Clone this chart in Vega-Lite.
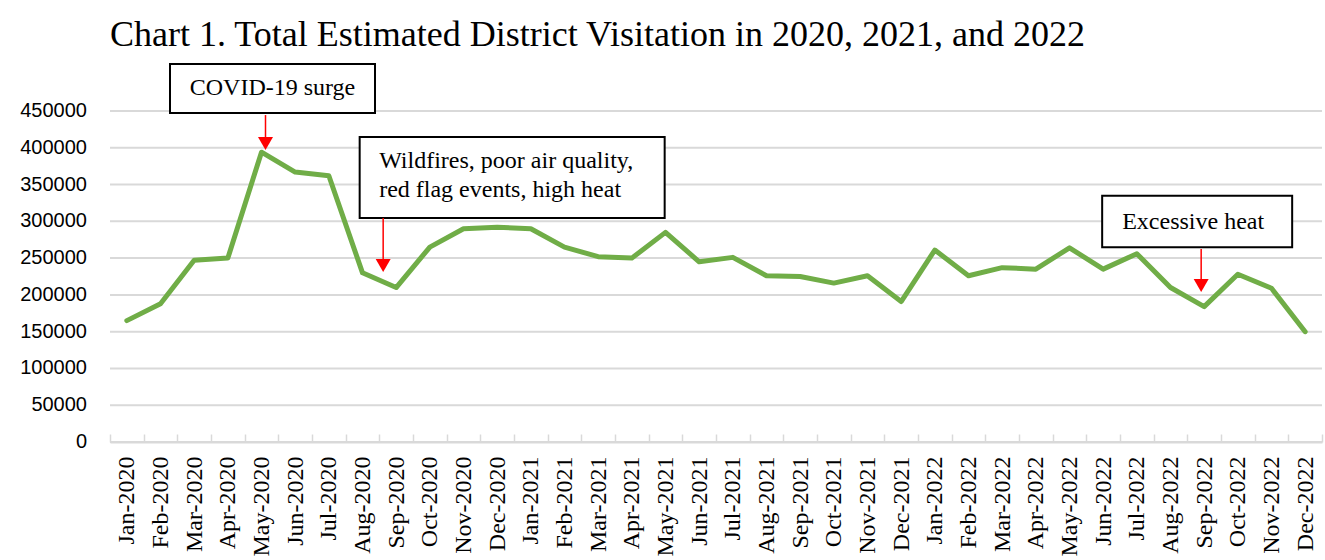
{
  "$schema": "https://vega.github.io/schema/vega-lite/v6.json",
  "width": 1212,
  "height": 331,
  "autosize": {"type": "none"},
  "padding": {"left": 110, "top": 111, "right": 3, "bottom": 118},
  "background": "white",
  "title": {
    "text": "Chart 1. Total Estimated District Visitation in 2020, 2021, and 2022",
    "anchor": "start",
    "frame": "group",
    "font": "Liberation Serif",
    "fontSize": 36,
    "fontWeight": "normal",
    "color": "black",
    "offset": 9
  },
  "resolve": {"axis": {"x": "independent", "y": "independent"}},
  "config": {
    "view": {"stroke": null},
    "axis": {"labelColor": "black"}
  },
  "datasets": {
    "visits": [
      {"month": "Jan-2020", "visitors": 165000},
      {"month": "Feb-2020", "visitors": 188000},
      {"month": "Mar-2020", "visitors": 247000},
      {"month": "Apr-2020", "visitors": 250000},
      {"month": "May-2020", "visitors": 394000},
      {"month": "Jun-2020", "visitors": 367000},
      {"month": "Jul-2020", "visitors": 362000},
      {"month": "Aug-2020", "visitors": 230000},
      {"month": "Sep-2020", "visitors": 210000},
      {"month": "Oct-2020", "visitors": 265000},
      {"month": "Nov-2020", "visitors": 290000},
      {"month": "Dec-2020", "visitors": 292000},
      {"month": "Jan-2021", "visitors": 290000},
      {"month": "Feb-2021", "visitors": 265000},
      {"month": "Mar-2021", "visitors": 252000},
      {"month": "Apr-2021", "visitors": 250000},
      {"month": "May-2021", "visitors": 285000},
      {"month": "Jun-2021", "visitors": 245000},
      {"month": "Jul-2021", "visitors": 251000},
      {"month": "Aug-2021", "visitors": 226000},
      {"month": "Sep-2021", "visitors": 225000},
      {"month": "Oct-2021", "visitors": 216000},
      {"month": "Nov-2021", "visitors": 226000},
      {"month": "Dec-2021", "visitors": 191000},
      {"month": "Jan-2022", "visitors": 261000},
      {"month": "Feb-2022", "visitors": 226000},
      {"month": "Mar-2022", "visitors": 237000},
      {"month": "Apr-2022", "visitors": 235000},
      {"month": "May-2022", "visitors": 264000},
      {"month": "Jun-2022", "visitors": 235000},
      {"month": "Jul-2022", "visitors": 256000},
      {"month": "Aug-2022", "visitors": 210000},
      {"month": "Sep-2022", "visitors": 184000},
      {"month": "Oct-2022", "visitors": 228000},
      {"month": "Nov-2022", "visitors": 209000},
      {"month": "Dec-2022", "visitors": 150000}
    ],
    "gridValues": [
      {"v": 0}, {"v": 50000}, {"v": 100000}, {"v": 150000}, {"v": 200000},
      {"v": 250000}, {"v": 300000}, {"v": 350000}, {"v": 400000}, {"v": 450000}
    ]
  },
  "layer": [
    {
      "data": {"name": "gridValues"},
      "mark": {"type": "rule", "color": "#d9d9d9", "strokeWidth": 2},
      "encoding": {
        "x": {"datum": "Jan-2020", "type": "ordinal", "bandPosition": 0, "axis": null},
        "x2": {"datum": "Dec-2022", "bandPosition": 1},
        "y": {"field": "v", "type": "quantitative", "axis": null}
      }
    },
    {
      "data": {"name": "visits"},
      "mark": {"type": "line", "color": "#70AD47", "strokeWidth": 5, "strokeJoin": "round", "strokeCap": "round"},
      "encoding": {
        "x": {
          "field": "month", "type": "ordinal", "sort": null, "title": null,
          "scale": {
            "type": "band", "paddingInner": 0, "paddingOuter": 0,
            "domain": ["Jan-2020", "Feb-2020", "Mar-2020", "Apr-2020", "May-2020", "Jun-2020", "Jul-2020", "Aug-2020", "Sep-2020", "Oct-2020", "Nov-2020", "Dec-2020",
                       "Jan-2021", "Feb-2021", "Mar-2021", "Apr-2021", "May-2021", "Jun-2021", "Jul-2021", "Aug-2021", "Sep-2021", "Oct-2021", "Nov-2021", "Dec-2021",
                       "Jan-2022", "Feb-2022", "Mar-2022", "Apr-2022", "May-2022", "Jun-2022", "Jul-2022", "Aug-2022", "Sep-2022", "Oct-2022", "Nov-2022", "Dec-2022"]
          },
          "axis": {
            "orient": "bottom",
            "labelAngle": -90, "labelAlign": "right", "labelBaseline": "middle",
            "labelFont": "Liberation Serif", "labelFontSize": 24, "labelPadding": 22,
            "labelColor": "black", "labelOverlap": false,
            "domainColor": "#d9d9d9", "domainWidth": 2,
            "tickBand": "extent", "tickColor": "#d9d9d9", "tickWidth": 1.5, "tickSize": -8,
            "grid": false
          }
        },
        "y": {
          "field": "visitors", "type": "quantitative", "title": null,
          "scale": {"domain": [0, 450000], "nice": false, "zero": true},
          "axis": null
        }
      }
    },
    {
      "data": {"name": "gridValues"},
      "mark": {"type": "text", "xOffset": -23, "align": "right", "baseline": "middle", "font": "Liberation Sans", "fontSize": 20, "color": "black"},
      "encoding": {
        "x": {"datum": "Jan-2020", "type": "ordinal", "bandPosition": 0, "axis": null},
        "y": {"field": "v", "type": "quantitative", "axis": null},
        "text": {"field": "v", "type": "quantitative", "format": "d"}
      }
    },
    {
      "data": {"values": [{"month": "May-2020", "label": "COVID-19 surge", "boxTop": 513900, "boxBottom": 447300, "textAt": 471700, "arrowTop": 444500, "arrowBottom": 410400, "tip": 405800}]},
      "layer": [
        {"mark": {"type": "rect", "width": 205, "xOffset": 11, "fill": "white", "stroke": "black", "strokeWidth": 2},
         "encoding": {"x": {"field": "month", "type": "ordinal", "sort": null, "axis": null}, "y": {"field": "boxTop", "type": "quantitative", "axis": null}, "y2": {"field": "boxBottom"}}},
        {"mark": {"type": "text", "xOffset": 11, "font": "Liberation Serif", "fontSize": 24, "color": "black", "align": "center", "baseline": "alphabetic"},
         "encoding": {"x": {"field": "month", "type": "ordinal", "sort": null, "axis": null}, "y": {"field": "textAt", "type": "quantitative", "axis": null}, "text": {"field": "label"}}},
        {"mark": {"type": "rule", "xOffset": 4, "color": "#ff0000", "strokeWidth": 1.5},
         "encoding": {"x": {"field": "month", "type": "ordinal", "sort": null, "axis": null}, "y": {"field": "arrowTop", "type": "quantitative", "axis": null}, "y2": {"field": "arrowBottom"}}},
        {"mark": {"type": "point", "xOffset": 4, "shape": "triangle-down", "filled": true, "color": "#ff0000", "size": 225, "opacity": 1},
         "encoding": {"x": {"field": "month", "type": "ordinal", "sort": null, "axis": null}, "y": {"field": "tip", "type": "quantitative", "axis": null}}}
      ]
    },
    {
      "data": {"values": [{"month": "Sep-2020", "label": "Wildfires, poor air quality,\nred flag events, high heat", "boxTop": 414650, "boxBottom": 304530, "textAt": 372500, "arrowTop": 304500, "arrowBottom": 244700, "tip": 240000}]},
      "layer": [
        {"mark": {"type": "rect", "width": 305, "xOffset": 116, "fill": "white", "stroke": "black", "strokeWidth": 2},
         "encoding": {"x": {"field": "month", "type": "ordinal", "sort": null, "axis": null}, "y": {"field": "boxTop", "type": "quantitative", "axis": null}, "y2": {"field": "boxBottom"}}},
        {"mark": {"type": "text", "xOffset": -17, "font": "Liberation Serif", "fontSize": 24, "color": "black", "align": "left", "baseline": "alphabetic", "lineBreak": "\n", "lineHeight": 29},
         "encoding": {"x": {"field": "month", "type": "ordinal", "sort": null, "axis": null}, "y": {"field": "textAt", "type": "quantitative", "axis": null}, "text": {"field": "label"}}},
        {"mark": {"type": "rule", "xOffset": -13, "color": "#ff0000", "strokeWidth": 1.5},
         "encoding": {"x": {"field": "month", "type": "ordinal", "sort": null, "axis": null}, "y": {"field": "arrowTop", "type": "quantitative", "axis": null}, "y2": {"field": "arrowBottom"}}},
        {"mark": {"type": "point", "xOffset": -13, "shape": "triangle-down", "filled": true, "color": "#ff0000", "size": 225, "opacity": 1},
         "encoding": {"x": {"field": "month", "type": "ordinal", "sort": null, "axis": null}, "y": {"field": "tip", "type": "quantitative", "axis": null}}}
      ]
    },
    {
      "data": {"values": [{"month": "Sep-2022", "label": "Excessive heat", "boxTop": 334850, "boxBottom": 264700, "textAt": 289600, "arrowTop": 262400, "arrowBottom": 217500, "tip": 212800}]},
      "layer": [
        {"mark": {"type": "rect", "width": 190, "xOffset": -7, "fill": "white", "stroke": "black", "strokeWidth": 2},
         "encoding": {"x": {"field": "month", "type": "ordinal", "sort": null, "axis": null}, "y": {"field": "boxTop", "type": "quantitative", "axis": null}, "y2": {"field": "boxBottom"}}},
        {"mark": {"type": "text", "xOffset": -11, "font": "Liberation Serif", "fontSize": 24, "color": "black", "align": "center", "baseline": "alphabetic"},
         "encoding": {"x": {"field": "month", "type": "ordinal", "sort": null, "axis": null}, "y": {"field": "textAt", "type": "quantitative", "axis": null}, "text": {"field": "label"}}},
        {"mark": {"type": "rule", "xOffset": -3, "color": "#ff0000", "strokeWidth": 1.5},
         "encoding": {"x": {"field": "month", "type": "ordinal", "sort": null, "axis": null}, "y": {"field": "arrowTop", "type": "quantitative", "axis": null}, "y2": {"field": "arrowBottom"}}},
        {"mark": {"type": "point", "xOffset": -3, "shape": "triangle-down", "filled": true, "color": "#ff0000", "size": 225, "opacity": 1},
         "encoding": {"x": {"field": "month", "type": "ordinal", "sort": null, "axis": null}, "y": {"field": "tip", "type": "quantitative", "axis": null}}}
      ]
    }
  ]
}
